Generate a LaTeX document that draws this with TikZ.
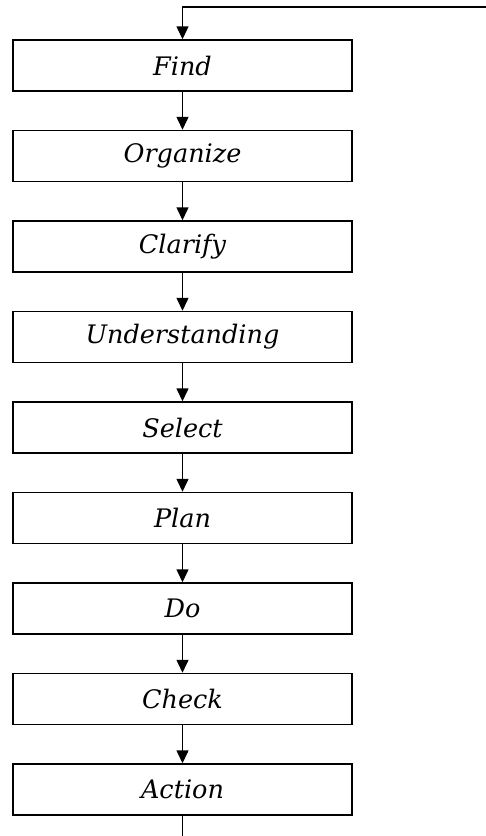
\documentclass[tikz,border=0pt]{standalone}
\usepackage{fontspec}
\setmainfont{DejaVu Serif}
\usetikzlibrary{positioning,arrows.meta}

\begin{document}
\begin{tikzpicture}[->,>={Triangle[width=12pt,length=13pt]},line width=1.5pt,x=1pt,y=1pt,node distance=38pt,
    step node/.style={rectangle,draw,minimum width=339pt,minimum height=51pt,inner sep=0pt,font=\itshape\fontsize{25.5}{27}\selectfont}]
                \useasboundingbox (0,0) rectangle (486,-836);
                \node[step node] (find) at (182.5,-65.5) {Find};
                \node[step node] (organize) [below=of find] {Organize};
                \node[step node] (clarify) [below=of organize] {Clarify};
                \node[step node] (understanding) [below=of clarify] {Understanding};
                \node[step node] (select) [below=of understanding] {Select};
                \node[step node] (plan) [below=of select] {Plan};
                \node[step node] (do) [below=of plan] {Do};
                \node[step node] (check) [below=of do] {Check};
                \node[step node] (action) [below=of check] {Action};
                \coordinate (back) at (486,-7);
                \coordinate (out) at (182.5,-836);

                \path
                    (find) edge (organize)
                    (organize) edge (clarify)
                    (clarify) edge (understanding)
                    (understanding) edge (select)
                    (select) edge (plan)
                    (plan) edge (do)
                    (do) edge (check)
                    (check) edge (action)
                    ;
                \draw[-] (action) -- (out);
                \draw (back) -| (find);
            \end{tikzpicture}
\end{document}
